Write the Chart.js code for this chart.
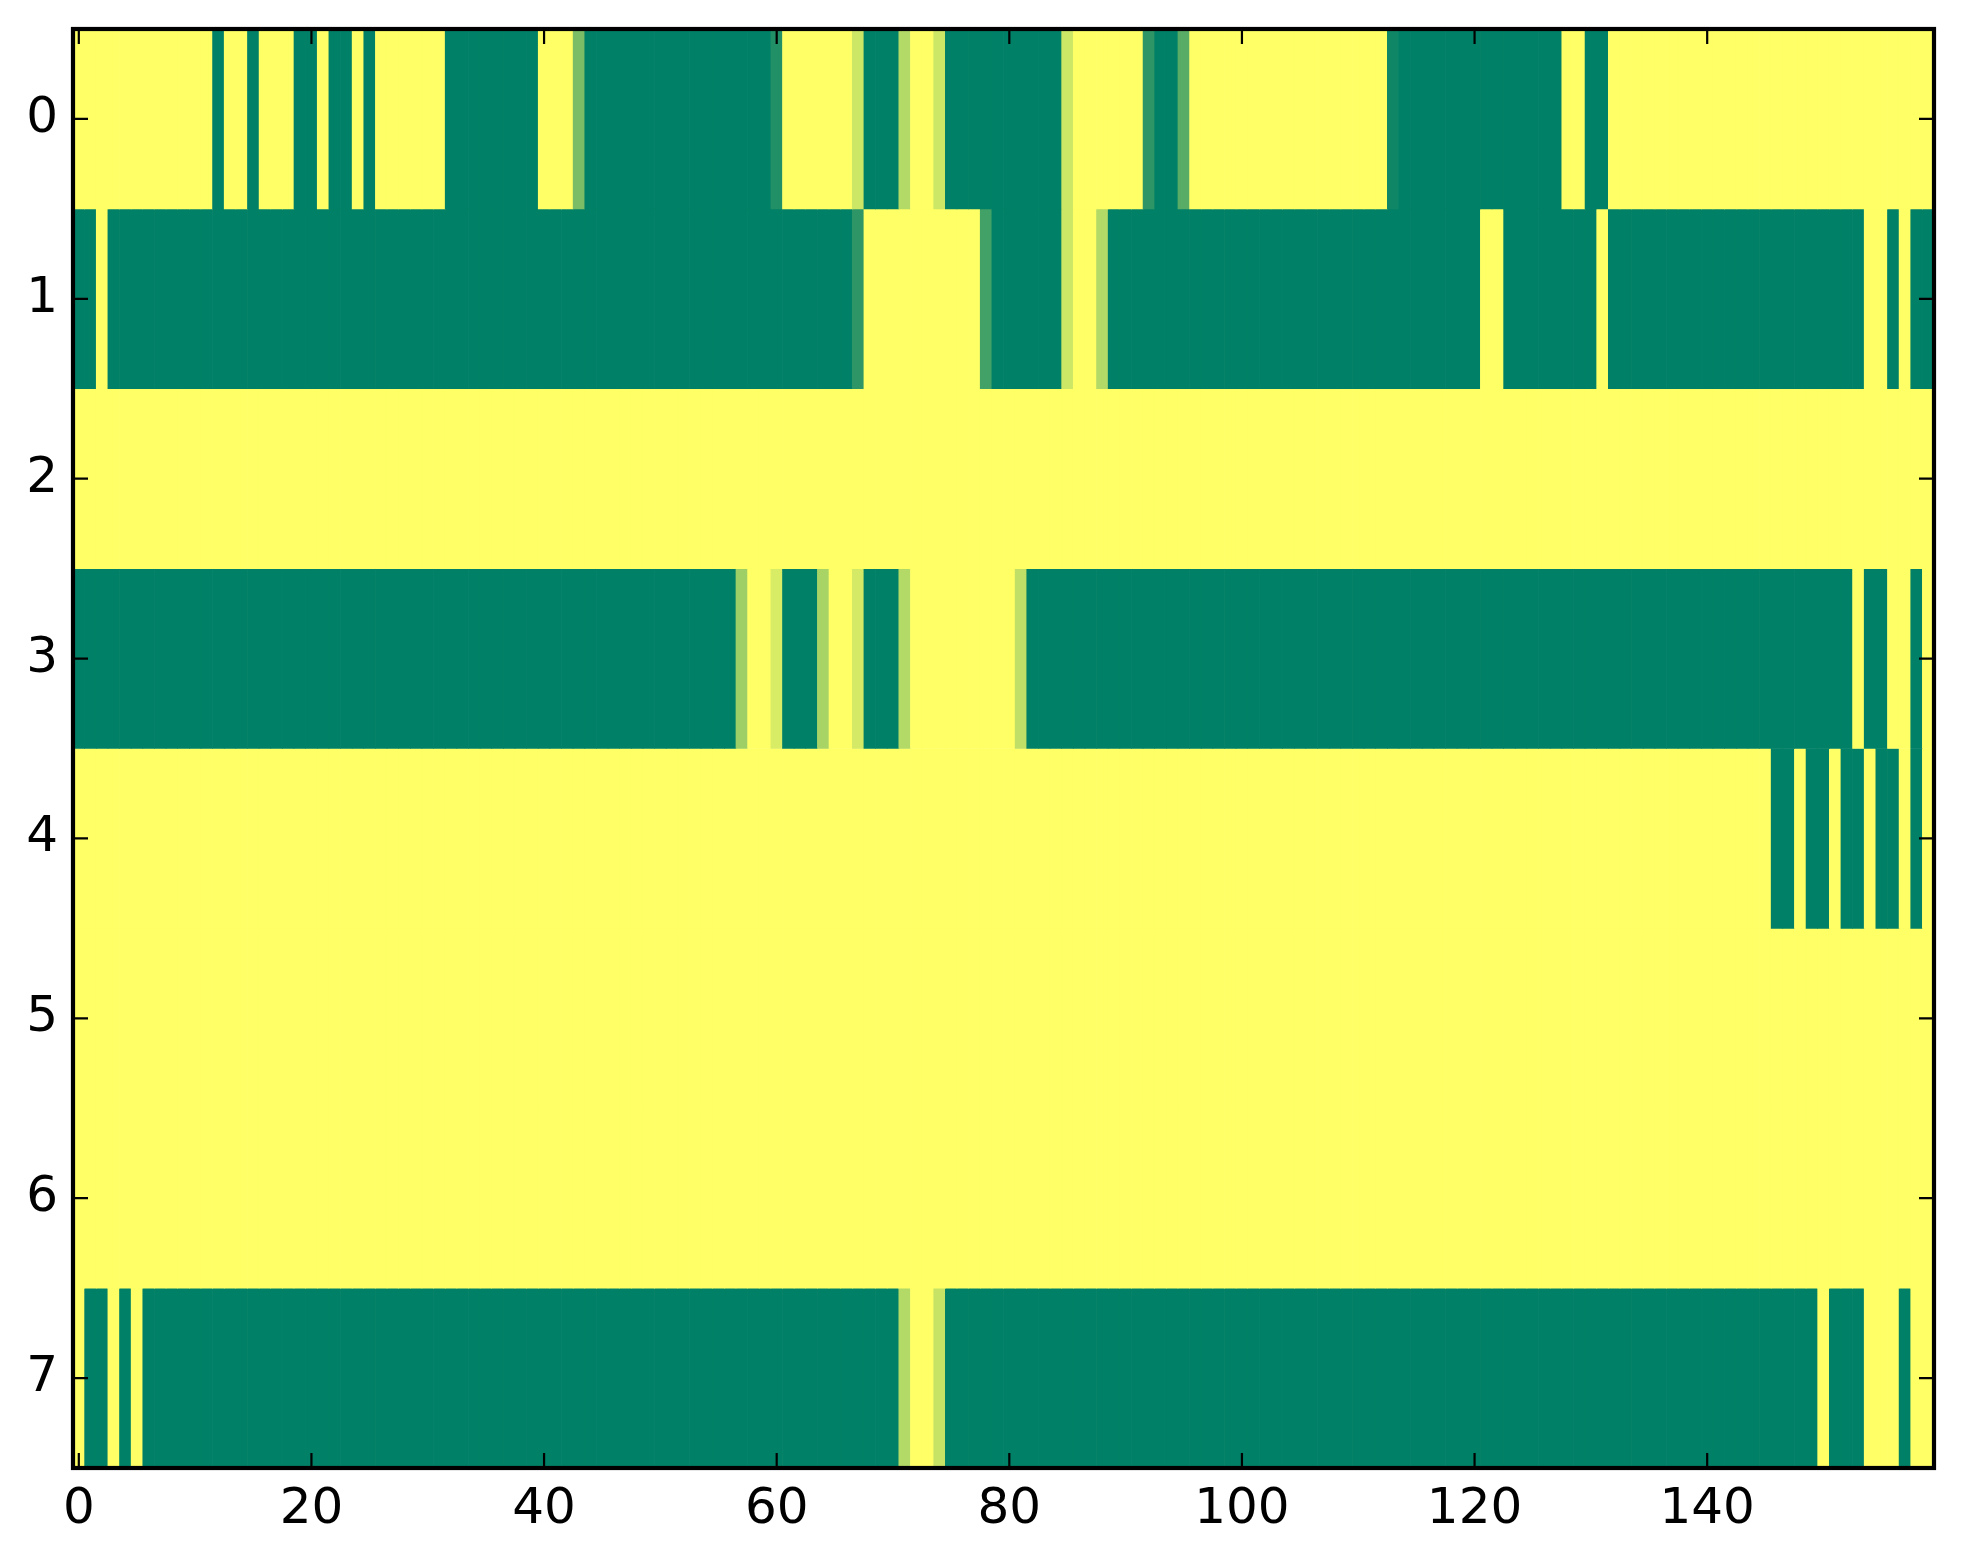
<!DOCTYPE html>
<html>
<head>
<meta charset="utf-8">
<script src="https://cdn.jsdelivr.net/npm/chart.js@4.4.1/dist/chart.umd.min.js"></script>
<style>
  html, body { margin: 0; padding: 0; background: #fff; }
  canvas { display: block; }
</style>
</head>
<body>
<canvas id="heat" width="1963" height="1564"></canvas>
<script>
// one array per image row, 160 cells each (1 = yellow, 0 = green)
const row0 = [
  1,1,1,1,1,1,1,1,1,1,1,1,0,1,1,0,1,1,1,0,
  0,1,0,0,1,0,1,1,1,1,1,1,0,0,0,0,0,0,0,0,
  1,1,1,0.48,0,0,0,0,0,0,0,0,0,0,0,0,0,0,0,0,
  0.13,1,1,1,1,1,1,0.8,0,0,0,0.7,1,1,0.8,0,0,0,0,0,
  0,0,0,0,0,0.8,1,1,1,1,1,1,0.18,0,0,0.35,1,1,1,1,
  1,1,1,1,1,1,1,1,1,1,1,1,1,0.06,0,0,0,0,0,0,
  0,0,0,0,0,0,0,0,1,1,0,0,1,1,1,1,1,1,1,1,
  1,1,1,1,1,1,1,1,1,1,1,1,1,1,1,1,1,1,1,1
];
const row1 = [
  0,0,1,0,0,0,0,0,0,0,0,0,0,0,0,0,0,0,0,0,
  0,0,0,0,0,0,0,0,0,0,0,0,0,0,0,0,0,0,0,0,
  0,0,0,0,0,0,0,0,0,0,0,0,0,0,0,0,0,0,0,0,
  0,0,0,0,0,0,0,0.18,1,1,1,1,1,1,1,1,1,1,0.26,0,
  0,0,0,0,0,0.8,1,1,0.7,0,0,0,0,0,0,0,0,0,0,0,
  0,0,0,0,0,0,0,0,0,0,0,0,0,0,0,0,0,0,0,0,
  0,1,1,0,0,0,0,0,0,0,0,1,0,0,0,0,0,0,0,0,
  0,0,0,0,0,0,0,0,0,0,0,0,0,0,1,1,0,1,0,0
];
const row2 = [
  1,1,1,1,1,1,1,1,1,1,1,1,1,1,1,1,1,1,1,1,
  1,1,1,1,1,1,1,1,1,1,1,1,1,1,1,1,1,1,1,1,
  1,1,1,1,1,1,1,1,1,1,1,1,1,1,1,1,1,1,1,1,
  1,1,1,1,1,1,1,1,1,1,1,1,1,1,1,1,1,1,1,1,
  1,1,1,1,1,1,1,1,1,1,1,1,1,1,1,1,1,1,1,1,
  1,1,1,1,1,1,1,1,1,1,1,1,1,1,1,1,1,1,1,1,
  1,1,1,1,1,1,1,1,1,1,1,1,1,1,1,1,1,1,1,1,
  1,1,1,1,1,1,1,1,1,1,1,1,1,1,1,1,1,1,1,1
];
const row3 = [
  0,0,0,0,0,0,0,0,0,0,0,0,0,0,0,0,0,0,0,0,
  0,0,0,0,0,0,0,0,0,0,0,0,0,0,0,0,0,0,0,0,
  0,0,0,0,0,0,0,0,0,0,0,0,0,0,0,0,0,0.62,1,1,
  0.85,0,0,0,0.66,1,1,0.83,0,0,0,0.7,1,1,1,1,1,1,1,1,
  1,0.75,0,0,0,0,0,0,0,0,0,0,0,0,0,0,0,0,0,0,
  0,0,0,0,0,0,0,0,0,0,0,0,0,0,0,0,0,0,0,0,
  0,0,0,0,0,0,0,0,0,0,0,0,0,0,0,0,0,0,0,0,
  0,0,0,0,0,0,0,0,0,0,0,0,0,1,0,0,1,1,0,1
];
const row4 = [
  1,1,1,1,1,1,1,1,1,1,1,1,1,1,1,1,1,1,1,1,
  1,1,1,1,1,1,1,1,1,1,1,1,1,1,1,1,1,1,1,1,
  1,1,1,1,1,1,1,1,1,1,1,1,1,1,1,1,1,1,1,1,
  1,1,1,1,1,1,1,1,1,1,1,1,1,1,1,1,1,1,1,1,
  1,1,1,1,1,1,1,1,1,1,1,1,1,1,1,1,1,1,1,1,
  1,1,1,1,1,1,1,1,1,1,1,1,1,1,1,1,1,1,1,1,
  1,1,1,1,1,1,1,1,1,1,1,1,1,1,1,1,1,1,1,1,
  1,1,1,1,1,1,0,0,1,0,0,1,0,0,1,0,0,1,0,1
];
const row5 = [
  1,1,1,1,1,1,1,1,1,1,1,1,1,1,1,1,1,1,1,1,
  1,1,1,1,1,1,1,1,1,1,1,1,1,1,1,1,1,1,1,1,
  1,1,1,1,1,1,1,1,1,1,1,1,1,1,1,1,1,1,1,1,
  1,1,1,1,1,1,1,1,1,1,1,1,1,1,1,1,1,1,1,1,
  1,1,1,1,1,1,1,1,1,1,1,1,1,1,1,1,1,1,1,1,
  1,1,1,1,1,1,1,1,1,1,1,1,1,1,1,1,1,1,1,1,
  1,1,1,1,1,1,1,1,1,1,1,1,1,1,1,1,1,1,1,1,
  1,1,1,1,1,1,1,1,1,1,1,1,1,1,1,1,1,1,1,1
];
const row6 = [
  1,1,1,1,1,1,1,1,1,1,1,1,1,1,1,1,1,1,1,1,
  1,1,1,1,1,1,1,1,1,1,1,1,1,1,1,1,1,1,1,1,
  1,1,1,1,1,1,1,1,1,1,1,1,1,1,1,1,1,1,1,1,
  1,1,1,1,1,1,1,1,1,1,1,1,1,1,1,1,1,1,1,1,
  1,1,1,1,1,1,1,1,1,1,1,1,1,1,1,1,1,1,1,1,
  1,1,1,1,1,1,1,1,1,1,1,1,1,1,1,1,1,1,1,1,
  1,1,1,1,1,1,1,1,1,1,1,1,1,1,1,1,1,1,1,1,
  1,1,1,1,1,1,1,1,1,1,1,1,1,1,1,1,1,1,1,1
];
const row7 = [
  1,0,0,1,0,1,0,0,0,0,0,0,0,0,0,0,0,0,0,0,
  0,0,0,0,0,0,0,0,0,0,0,0,0,0,0,0,0,0,0,0,
  0,0,0,0,0,0,0,0,0,0,0,0,0,0,0,0,0,0,0,0,
  0,0,0,0,0,0,0,0,0,0,0,0.7,1,1,0.78,0,0,0,0,0,
  0,0,0,0,0,0,0,0,0,0,0,0,0,0,0,0,0,0,0,0,
  0,0,0,0,0,0,0,0,0,0,0,0,0,0,0,0,0,0,0,0,
  0,0,0,0,0,0,0,0,0,0,0,0,0,0,0,0,0,0,0,0,
  0,0,0,0,0,0,0,0,0,0,1,0,0,0,1,1,1,0,1,1
];
const rows = [row0, row1, row2, row3, row4, row5, row6, row7];

const xTicks = [0, 20, 40, 60, 80, 100, 120, 140];
const yTicks = [0, 1, 2, 3, 4, 5, 6, 7];

// matplotlib "summer" colormap
function summer(v) {
  return 'rgb(' + Math.round(255 * v) + ',' + Math.round(255 * (0.5 + v / 2)) + ',102)';
}

const datasets = rows.map((row, r) => ({
  data: row.map((v, i) => ({ x: i, y: [r - 0.5, r + 0.5] })),
  backgroundColor: row.map(summer),
  borderWidth: 0,
  grouped: false,
  barPercentage: 1,
  categoryPercentage: 1
}));

// black frame plus inward ticks on all four sides, like the classic matplotlib style
const frame = {
  id: 'frame',
  afterDatasetsDraw(chart) {
    const { ctx, chartArea: a, scales } = chart;
    ctx.save();
    ctx.strokeStyle = '#000';
    ctx.lineWidth = 2.2;
    const len = 15;
    ctx.beginPath();
    xTicks.forEach(v => {
      const px = scales.x.getPixelForValue(v);
      ctx.moveTo(px, a.bottom); ctx.lineTo(px, a.bottom - len);
      ctx.moveTo(px, a.top); ctx.lineTo(px, a.top + len);
    });
    yTicks.forEach(v => {
      const py = scales.y.getPixelForValue(v);
      ctx.moveTo(a.left, py); ctx.lineTo(a.left + len, py);
      ctx.moveTo(a.right, py); ctx.lineTo(a.right - len, py);
    });
    ctx.stroke();
    ctx.lineWidth = 4.2;
    ctx.strokeRect(a.left, a.top, a.right - a.left, a.bottom - a.top);
    ctx.restore();
  }
};

const tickFont = { family: 'DejaVu Sans', size: 50 };

new Chart(document.getElementById('heat').getContext('2d'), {
  type: 'bar',
  data: { datasets: datasets },
  options: {
    responsive: false,
    animation: false,
    devicePixelRatio: 1,
    layout: { padding: { top: 29, right: 29, left: 0, bottom: 0 } },
    plugins: { legend: { display: false }, tooltip: { enabled: false } },
    scales: {
      x: {
        type: 'linear',
        min: -0.5,
        max: 159.5,
        offset: false,
        grid: { display: false, drawTicks: false },
        border: { display: false },
        afterBuildTicks: s => { s.ticks = xTicks.map(v => ({ value: v })); },
        afterFit: s => { s.height = 96; s.paddingLeft = 0; s.paddingRight = 0; },
        ticks: { color: '#000', font: tickFont, padding: 12, maxRotation: 0, autoSkip: false }
      },
      y: {
        type: 'linear',
        reverse: true,
        min: -0.5,
        max: 7.5,
        grid: { display: false, drawTicks: false },
        border: { display: false },
        afterBuildTicks: s => { s.ticks = yTicks.map(v => ({ value: v })); },
        afterFit: s => { s.width = 73; s.paddingTop = 0; s.paddingBottom = 0; },
        ticks: { color: '#000', font: tickFont, padding: 15, autoSkip: false }
      }
    }
  },
  plugins: [frame]
});
</script>
</body>
</html>
